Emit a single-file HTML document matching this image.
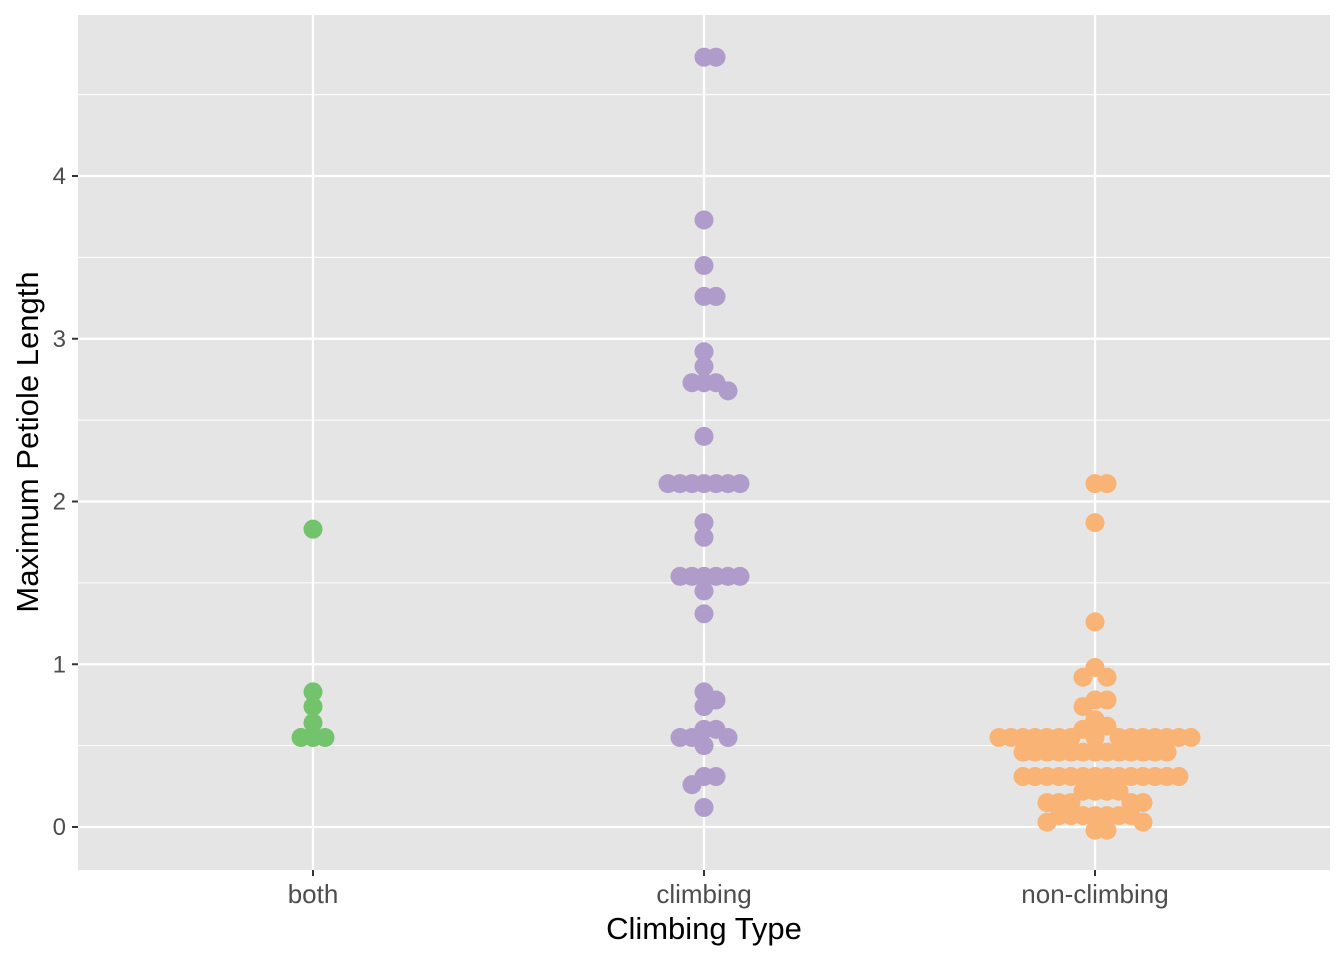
<!DOCTYPE html>
<html><head><meta charset="utf-8"><style>
body{margin:0;background:#fff}
svg{display:block;font-family:"Liberation Sans",sans-serif}
</style></head><body>
<svg id="chart" width="1344" height="960">
<rect x="78" y="15" width="1252" height="855" fill="#e5e5e5"/>
<g id="grid"></g><g id="pts"></g><g id="axes"></g>
<text x="704" y="939" font-size="31" text-anchor="middle" fill="#000">Climbing Type</text>
<text transform="translate(38,442) rotate(-90)" font-size="31" text-anchor="middle" fill="#000">Maximum Petiole Length</text>
</svg>
<script>
const categories=["both","climbing","non-climbing"];
const colors=["#72c36c","#b09ccb","#f9b374"];
const bothVals=[1.83,0.83,0.74,0.64,0.55,0.55,0.55];
const climbingVals=[4.73,4.73,3.73,3.45,3.26,3.26,2.92,2.83,2.73,2.73,2.73,2.68,2.40,2.11,2.11,2.11,2.11,2.11,2.11,2.11,1.87,1.78,1.54,1.54,1.54,1.54,1.54,1.54,1.45,1.31,0.83,0.78,0.74,0.60,0.60,0.55,0.55,0.55,0.50,0.31,0.31,0.26,0.12];
const nonClimbingVals=[2.11,2.11,1.87,1.26,0.98,0.92,0.92,0.78,0.78,0.74,0.66,0.62,0.60,
0.55,0.55,0.55,0.55,0.55,0.55,0.55,0.55,0.55,0.55,0.55,0.55,0.55,0.55,0.55,
0.46,0.46,0.46,0.46,0.46,0.46,0.46,0.46,0.46,0.46,0.46,0.46,0.46,
0.31,0.31,0.31,0.31,0.31,0.31,0.31,0.31,0.31,0.31,0.31,0.31,0.31,0.31,
0.22,0.22,0.22,0.22,0.15,0.15,0.15,0.15,0.15,
0.07,0.07,0.07,0.07,0.07,0.07,0.07,0.03,0.03,-0.02,-0.02];
const seriesVals=[bothVals,climbingVals,nonClimbingVals];
const yTicks=[0,1,2,3,4];
const NS="http://www.w3.org/2000/svg";
const y=v=>827-v*162.75;
const x=i=>313+i*391;
const grid=document.getElementById('grid'),axes=document.getElementById('axes'),pts=document.getElementById('pts');
function mk(tag,attrs,parent){const e=document.createElementNS(NS,tag);for(const k in attrs)e.setAttribute(k,attrs[k]);parent.appendChild(e);return e;}
for(let v=-0.5;v<=4.6;v+=0.5){if(y(v)<15||y(v)>870)continue;const major=Math.abs(v-Math.round(v))<1e-9;
const l=mk('line',{x1:78,x2:1330,y1:y(v),y2:y(v),stroke:'#fff','stroke-width':major?2.2:1.1},grid);

}
categories.forEach((c,i)=>{const l=mk('line',{x1:x(i),x2:x(i),y1:15,y2:870,stroke:'#fff','stroke-width':2.2},grid);


mk('line',{x1:x(i),x2:x(i),y1:870,y2:876,stroke:'#333','stroke-width':2},axes);
const t=mk('text',{x:x(i),y:903,'font-size':26,'text-anchor':'middle',fill:'#4d4d4d'},axes);t.textContent=c;

});
yTicks.forEach(v=>{mk('line',{x1:72,x2:78,y1:y(v),y2:y(v),stroke:'#333','stroke-width':2},axes);
const t=mk('text',{x:66,y:y(v)+8,'font-size':24,'text-anchor':'end',fill:'#4d4d4d'},axes);t.textContent=v;

});
const S=12;
seriesVals.forEach((vals,i)=>{const placed=[];
vals.forEach(v=>{const py=y(v);let dx=0;
for(let k=0;k<200;k++){const cand=k===0?0:(k%2?1:-1)*Math.ceil(k/2)*S;
if(placed.every(p=>Math.hypot(p[0]-cand,p[1]-py)>=S-0.01)){dx=cand;break;}}
placed.push([dx,py]);
const c=mk('circle',{cx:x(i)+dx,cy:py,r:9.5,fill:colors[i]},pts);

});});
</script>
</body></html>
